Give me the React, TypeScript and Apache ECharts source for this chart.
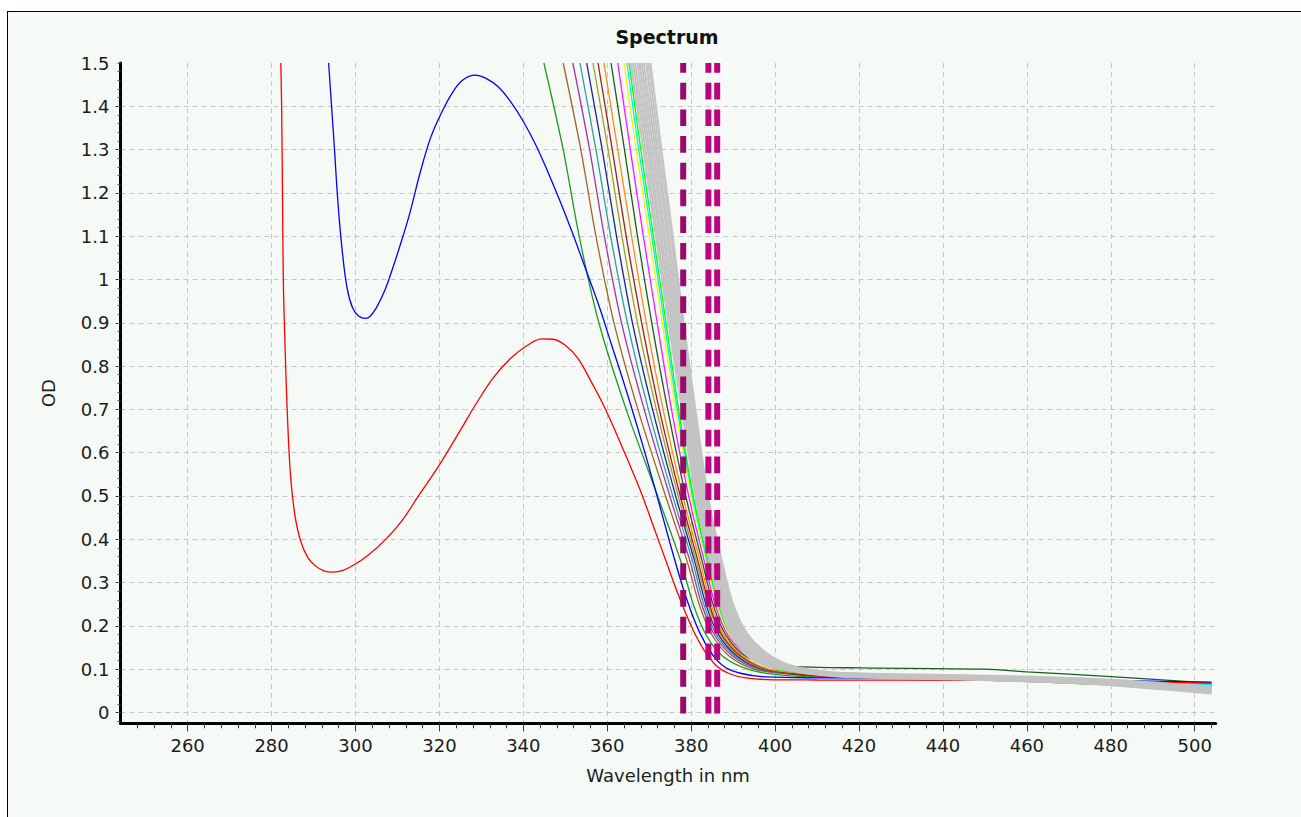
import React, { useEffect, useRef } from "react";
import * as echarts from "echarts";

// Axis ranges (nm / OD)
const X_MIN = 244;
const X_MAX = 505;
const Y_MIN = -0.025;
const Y_MAX = 1.5;

// Tick values
const X_MAJOR = [260, 280, 300, 320, 340, 360, 380, 400, 420, 440, 460, 480, 500];
const X_MINOR: number[] = [];
for (let v = 248; v <= 504; v += 4) X_MINOR.push(v);
const Y_LABELS = [0, 0.1, 0.2, 0.3, 0.4, 0.5, 0.6, 0.7, 0.8, 0.9, 1, 1.1, 1.2, 1.3, 1.4, 1.5];
const Y_GRID = Y_LABELS.filter((v) => v < 1.5);
const Y_MINOR: number[] = [];
for (let i = -1; i <= 75; i++) Y_MINOR.push(+(i * 0.02).toFixed(2));

// Reference spectra
const RED_SPECTRUM: [number, number][] = [
  [282.2, 1.5], [282.4, 1.4], [282.6, 1.2], [282.8, 1.0], [283.2, 0.85], [283.8, 0.68],
  [284.5, 0.55], [285.5, 0.46], [286.8, 0.4], [288.5, 0.36], [290.5, 0.338], [292.5, 0.327],
  [294.5, 0.324], [297, 0.328], [300, 0.343], [303, 0.363], [307, 0.398], [311, 0.442],
  [315, 0.5], [320, 0.572], [325, 0.652], [329, 0.717], [333, 0.775], [337, 0.818],
  [341, 0.848], [344.5, 0.863], [347, 0.862], [350, 0.848], [353, 0.818], [356, 0.767],
  [359, 0.712], [362, 0.648], [365, 0.58], [368, 0.51], [371, 0.43], [374, 0.35], [377, 0.27],
  [380, 0.2], [383, 0.145], [386, 0.108], [389, 0.09], [393, 0.08], [398, 0.076],
  [410, 0.075], [450, 0.074], [480, 0.071], [504, 0.068],
];

const BLUE_SPECTRUM: [number, number][] = [
  [293.6, 1.5], [294.3, 1.4], [295, 1.3], [295.8, 1.18], [296.8, 1.07], [298, 0.98],
  [299.3, 0.935], [300.8, 0.915], [302.5, 0.91], [303.5, 0.915], [305, 0.935], [307, 0.975],
  [309, 1.03], [311, 1.09], [313, 1.155], [315.5, 1.25], [318, 1.33], [320.5, 1.385],
  [323, 1.43], [325.5, 1.46], [328.5, 1.472], [331, 1.465], [334, 1.445], [337, 1.41],
  [340, 1.365], [343, 1.31], [346, 1.245], [349, 1.175], [352, 1.1], [355, 1.02], [358, 0.94],
  [361, 0.85], [364, 0.76], [367, 0.665], [370, 0.565], [373, 0.46], [376, 0.355], [379, 0.26],
  [382, 0.185], [385, 0.135], [388, 0.105], [392, 0.09], [398, 0.082], [410, 0.08],
  [450, 0.078], [504, 0.07],
];

// OD levels at which the absorption-edge wavelengths are listed
const EDGE_LEVELS = [1.5, 1.3, 1.1, 0.9, 0.7, 0.5, 0.35, 0.25, 0.18, 0.13];

// Coloured spectra: edge wavelengths at EDGE_LEVELS, then the tail [nm, OD]
const COLOR_EDGES: number[][] = [
  [344.9, 349.5, 353.3, 358.0, 364.5, 372.0, 377.5, 380.5, 383.5, 387.5],
  [349.5, 353.7, 357.3, 361.6, 367.3, 373.9, 379.0, 381.9, 384.9, 389.1],
  [351.8, 355.8, 359.3, 363.4, 368.8, 374.9, 379.7, 382.5, 385.5, 389.9],
  [353.5, 357.3, 360.8, 364.8, 369.8, 375.6, 380.3, 383.0, 386.0, 390.5],
  [355.1, 358.8, 362.2, 366.0, 370.8, 376.3, 380.8, 383.5, 386.5, 391.0],
  [356.6, 360.2, 363.5, 367.2, 371.7, 376.9, 381.2, 384.0, 387.0, 391.5],
  [357.8, 361.2, 364.5, 368.2, 372.4, 377.4, 381.6, 384.3, 387.3, 391.9],
  [359.2, 362.5, 365.8, 369.3, 373.3, 378.0, 382.1, 384.7, 387.7, 392.4],
  [360.9, 364.1, 367.2, 370.6, 374.4, 378.7, 382.6, 385.2, 388.2, 393.0],
  [362.5, 365.5, 368.6, 371.9, 375.3, 379.4, 383.1, 385.7, 388.7, 393.6],
  [364.0, 366.9, 370.0, 373.1, 376.3, 380.0, 383.6, 386.1, 389.1, 394.1],
  [364.7, 367.5, 370.6, 373.6, 376.7, 380.3, 383.8, 386.4, 389.4, 394.3],
  [365.2, 368.0, 371.0, 374.0, 377.0, 380.5, 384.0, 386.5, 389.5, 394.5],
];
const COLOR_TAILS: [number, number][][] = [
  [[393.5, 0.1], [400, 0.088], [410, 0.082], [440, 0.079], [470, 0.072], [504, 0.062]],
  [[395, 0.1], [402, 0.09], [410, 0.085], [440, 0.08], [470, 0.073], [504, 0.063]],
  [[396, 0.1], [403, 0.09], [410, 0.084], [440, 0.08], [470, 0.072], [504, 0.062]],
  [[396.5, 0.1], [403, 0.09], [410, 0.083], [440, 0.079], [470, 0.072], [504, 0.061]],
  [[397, 0.1], [404, 0.09], [410, 0.086], [440, 0.081], [470, 0.074], [504, 0.063]],
  [[397.5, 0.1], [404, 0.091], [410, 0.087], [440, 0.082], [470, 0.074], [504, 0.064]],
  [[398, 0.1], [404, 0.09], [410, 0.084], [440, 0.078], [470, 0.068], [504, 0.056]],
  [[398.5, 0.1], [405, 0.092], [410, 0.088], [440, 0.082], [470, 0.074], [504, 0.064]],
  [[399, 0.112], [405, 0.106], [420, 0.103], [450, 0.1], [460, 0.094], [480, 0.083], [504, 0.068]],
  [[399.5, 0.103], [406, 0.095], [415, 0.091], [440, 0.085], [470, 0.076], [504, 0.065]],
  [[400, 0.102], [406, 0.094], [415, 0.09], [440, 0.084], [470, 0.075], [504, 0.064]],
  [[400, 0.101], [406, 0.093], [415, 0.089], [440, 0.083], [470, 0.075], [504, 0.064]],
  [[400.5, 0.1], [407, 0.092], [415, 0.088], [440, 0.082], [470, 0.068], [490, 0.06], [504, 0.057]],
];
const COLOR_PALETTE = [
  "#1e9a1e", "#a3622a", "#a335a3", "#2aa0a0", "#1f1f9c", "#a0a01e", "#a01e1e",
  "#ff8c14", "#1f5a1f", "#ff14ff", "#f4f400", "#00f0f0", "#00ff00",
];

// Grey replicate spectra
const GRAY_EDGES: number[][] = [
  [365.6, 368.6, 371.6, 374.6, 377.8, 381.0, 384.3, 386.8, 389.5, 393.5],
  [366.1, 369.1, 372.0, 375.0, 378.2, 381.3, 384.6, 387.2, 389.9, 394.1],
  [366.6, 369.6, 372.5, 375.4, 378.5, 381.7, 385.0, 387.5, 390.4, 394.7],
  [367.2, 370.0, 372.9, 375.8, 378.9, 382.0, 385.3, 387.9, 390.8, 395.3],
  [367.7, 370.5, 373.4, 376.2, 379.2, 382.3, 385.6, 388.2, 391.3, 395.9],
  [368.2, 371.0, 373.8, 376.6, 379.6, 382.7, 386.0, 388.6, 391.7, 396.6],
  [368.7, 371.5, 374.3, 377.0, 379.9, 383.0, 386.3, 388.9, 392.2, 397.2],
  [369.3, 371.9, 374.7, 377.4, 380.3, 383.3, 386.6, 389.3, 392.6, 397.8],
  [369.8, 372.4, 375.2, 377.8, 380.6, 383.7, 387.0, 389.6, 393.1, 398.4],
  [370.3, 372.9, 375.6, 378.2, 381.0, 384.0, 387.3, 390.0, 393.5, 399.0],
];
const GRAY_TAILS: [number, number][][] = [
  [[399.0, 0.105], [415, 0.083], [445, 0.076], [475, 0.066], [504, 0.044]],
  [[399.7, 0.105], [415, 0.084], [445, 0.077], [475, 0.067], [504, 0.046]],
  [[400.3, 0.105], [415, 0.085], [445, 0.078], [475, 0.068], [504, 0.047]],
  [[401.0, 0.105], [415, 0.086], [445, 0.079], [475, 0.07], [504, 0.049]],
  [[401.7, 0.105], [415, 0.087], [445, 0.08], [475, 0.071], [504, 0.051]],
  [[402.3, 0.105], [415, 0.088], [445, 0.081], [475, 0.073], [504, 0.052]],
  [[403.0, 0.105], [415, 0.089], [445, 0.082], [475, 0.074], [504, 0.054]],
  [[403.7, 0.105], [415, 0.09], [445, 0.083], [475, 0.075], [504, 0.056]],
  [[404.3, 0.105], [415, 0.091], [445, 0.085], [475, 0.077], [504, 0.058]],
  [[405.0, 0.105], [415, 0.092], [445, 0.086], [475, 0.078], [504, 0.06]],
];

// Vertical marker wavelengths
const MARKER_NM = [378.1, 384.1, 386.2];
const MARKER_COLORS = ["#970b6c", "#b8057f", "#b8057f"];

const FONT = "DejaVu Sans";

function edgeCurve(edge: number[], tail: [number, number][]): [number, number][] {
  return [...edge.map((nm, i) => [nm, EDGE_LEVELS[i]] as [number, number]), ...tail];
}

function spectrumSeries(data: [number, number][], color: string, width: number, smooth: number) {
  return {
    type: "line",
    data,
    showSymbol: false,
    symbol: "none",
    smooth,
    silent: true,
    emphasis: { disabled: true },
    lineStyle: { color, width },
  };
}

function buildOption() {
  const series: any[] = [];
  COLOR_EDGES.forEach((edge, i) =>
    series.push(spectrumSeries(edgeCurve(edge, COLOR_TAILS[i]), COLOR_PALETTE[i], 1.3, 0.3))
  );
  series.push(spectrumSeries(BLUE_SPECTRUM, "#0000ff", 1.3, 0.4));
  series.push(spectrumSeries(RED_SPECTRUM, "#ff0000", 1.3, 0.4));
  GRAY_EDGES.forEach((edge, i) =>
    series.push(spectrumSeries(edgeCurve(edge, GRAY_TAILS[i]), "#c3c3c3", 2, 0.3))
  );
  MARKER_NM.forEach((nm, i) =>
    series.push({
      type: "line",
      data: [
        [nm, Y_MAX],
        [nm, Y_MIN],
      ],
      showSymbol: false,
      symbol: "none",
      silent: true,
      emphasis: { disabled: true },
      lineStyle: { color: MARKER_COLORS[i], width: 6, type: [16.7, 10], dashOffset: 6.7, cap: "butt" },
    })
  );

  const labelStyle = { fontFamily: FONT, fontSize: 18, color: "#1c1c1c" };
  const gridLine = { show: true, lineStyle: { color: "#c6c6c6", width: 1, type: [5, 4] } };

  return {
    animation: false,
    textStyle: { fontFamily: FONT },
    grid: {
      left: 120.5,
      right: 85.3,
      top: 63,
      bottom: 93.7,
      containLabel: false,
      outerBoundsMode: "none",
    },
    graphic: [
      {
        type: "text",
        x: 667,
        y: 37,
        style: {
          text: "Spectrum",
          fontFamily: FONT,
          fontSize: 19,
          fontWeight: "bold",
          fill: "#111",
          align: "center",
          verticalAlign: "middle",
        },
      },
    ],
    xAxis: [
      {
        type: "value",
        min: X_MIN,
        max: X_MAX,
        position: "bottom",
        name: "Wavelength in nm",
        nameLocation: "middle",
        nameGap: 43,
        nameMoveOverlap: false,
        nameTextStyle: labelStyle,
        axisLine: { show: true, onZero: false, lineStyle: { color: "#000", width: 3 } },
        axisTick: { show: true, customValues: X_MAJOR, length: 8, lineStyle: { color: "#3a3a3a", width: 1 } },
        axisLabel: { show: true, customValues: X_MAJOR, margin: 13, ...labelStyle },
        splitLine: gridLine,
        minorTick: { show: false },
      },
      {
        type: "value",
        min: X_MIN,
        max: X_MAX,
        position: "bottom",
        axisLine: { show: false, onZero: false },
        axisTick: { show: true, customValues: X_MINOR, length: 5, lineStyle: { color: "#3a3a3a", width: 1 } },
        axisLabel: { show: false },
        splitLine: { show: false },
      },
    ],
    yAxis: [
      {
        type: "value",
        min: Y_MIN,
        max: Y_MAX,
        position: "left",
        name: "OD",
        nameLocation: "middle",
        nameGap: 63,
        nameMoveOverlap: false,
        nameTextStyle: labelStyle,
        axisLine: { show: true, onZero: false, lineStyle: { color: "#000", width: 3 } },
        axisTick: { show: true, customValues: Y_GRID, length: 5, lineStyle: { color: "#3a3a3a", width: 1 } },
        axisLabel: {
          show: true,
          customValues: Y_LABELS,
          margin: 11,
          formatter: (v: number) => String(+v.toFixed(1)),
          ...labelStyle,
        },
        splitLine: gridLine,
        minorTick: { show: false },
      },
      {
        type: "value",
        min: Y_MIN,
        max: Y_MAX,
        position: "left",
        axisLine: { show: false, onZero: false },
        axisTick: { show: true, customValues: Y_MINOR, length: 3, lineStyle: { color: "#555", width: 1 } },
        axisLabel: { show: false },
        splitLine: { show: false },
      },
    ],
    series,
  };
}

export default function App() {
  const ref = useRef<HTMLDivElement>(null);

  useEffect(() => {
    if (!ref.current) return;
    const chart = echarts.init(ref.current, null, { renderer: "svg" });
    chart.setOption(buildOption() as any);
    return () => chart.dispose();
  }, []);

  return (
    <div
      style={{
        position: "fixed",
        left: 0,
        top: 0,
        width: 1301,
        height: 817,
        background: "#ffffff",
        overflow: "hidden",
      }}
    >
      <div
        style={{
          position: "absolute",
          left: 7,
          top: 11,
          width: 1294,
          height: 806,
          boxSizing: "border-box",
          background: "#f5faf6",
          borderTop: "1px solid #000",
          borderLeft: "1px solid #000",
        }}
      />
      <div ref={ref} style={{ position: "absolute", left: 0, top: 0, width: 1301, height: 817 }} />
    </div>
  );
}
